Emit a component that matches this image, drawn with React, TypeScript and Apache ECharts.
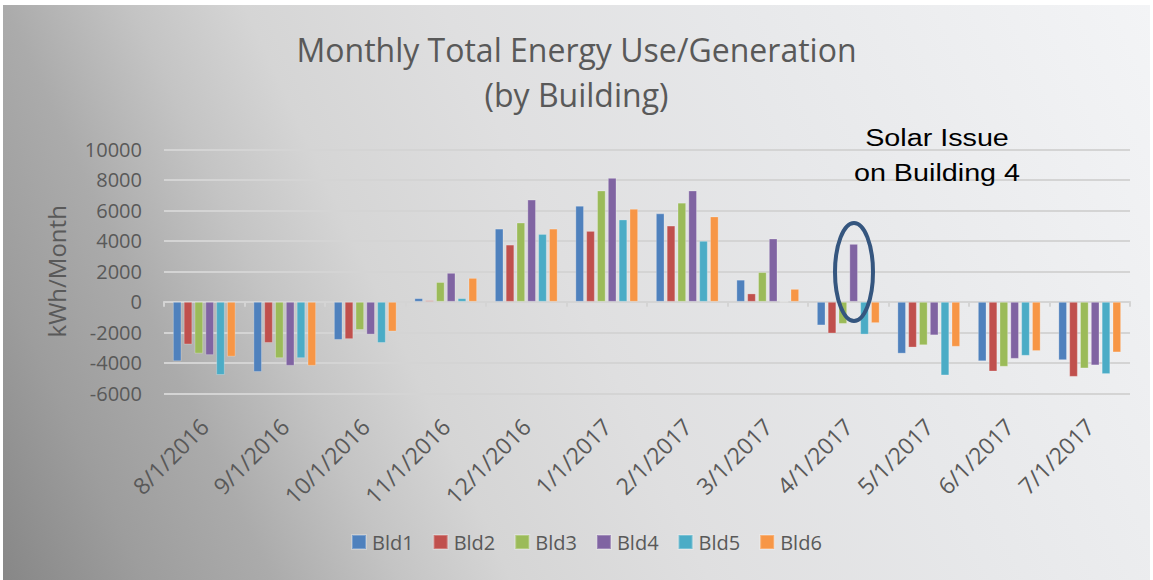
import React, { useEffect, useRef } from "react";
import * as echarts from "echarts";

const categories = [
  "8/1/2016", "9/1/2016", "10/1/2016", "11/1/2016", "12/1/2016", "1/1/2017",
  "2/1/2017", "3/1/2017", "4/1/2017", "5/1/2017", "6/1/2017", "7/1/2017",
];
const bld1 = [-3900, -4600, -2500, 240, 4800, 6300, 5800, 1450, -1550, -3400, -3900, -3830];
const bld2 = [-2800, -2700, -2450, 100, 3750, 4650, 5000, 550, -2080, -3000, -4570, -4920];
const bld3 = [-3400, -3700, -1850, 1300, 5200, 7300, 6500, 1950, -1450, -2850, -4260, -4370];
const bld4 = [-3500, -4200, -2150, 1900, 6700, 8130, 7300, 4150, 3800, -2200, -3740, -4170];
const bld5 = [-4800, -3700, -2700, 240, 4450, 5400, 4000, 0, -2150, -4830, -3540, -4740];
const bld6 = [-3600, -4200, -1950, 1570, 4800, 6100, 5600, 850, -1400, -2950, -3230, -3320];

const seriesNames = ["Bld1", "Bld2", "Bld3", "Bld4", "Bld5", "Bld6"];
const seriesData = [bld1, bld2, bld3, bld4, bld5, bld6];
const colors = ["#4F81BD", "#C0504D", "#9BBB59", "#8064A2", "#4BACC6", "#F79646"];

const yMin = -6000;
const yMax = 10000;
const yInterval = 2000;

export default function App() {
  const ref = useRef<HTMLDivElement>(null);
  useEffect(() => {
    if (!ref.current) return;
    const chart = echarts.init(ref.current, undefined, { renderer: "svg" });
    const textColor = "#595959";
    const font = "'Open Sans', 'Noto Sans', sans-serif";
    chart.setOption({
      animation: false,
      color: colors,
      title: {
        text: "Monthly Total Energy Use/Generation\n(by Building)",
        left: "center",
        top: 17,
        textStyle: {
          fontFamily: font,
          fontWeight: "normal",
          fontSize: 32,
          lineHeight: 45,
          color: textColor,
        },
      },
      legend: {
        data: seriesNames,
        left: 343,
        top: 522,
        itemWidth: 14,
        itemHeight: 14,
        itemGap: 19,
        icon: "rect",
        textStyle: { fontFamily: font, fontSize: 20, color: textColor, padding: [0, 0, 0, 1] },
      },
      grid: { left: 161, top: 144.3, width: 966, height: 244, containLabel: false },
      xAxis: [
        {
          type: "category",
          data: categories,
          position: "bottom",
          axisLine: { show: false, onZero: false },
          axisTick: { show: false },
          axisLabel: {
            rotate: 45,
            margin: 29,
            fontFamily: font,
            fontSize: 23,
            color: textColor,
            interval: 0,
          },
        },
        {
          type: "category",
          data: categories,
          position: "bottom",
          axisLine: { show: true, onZero: true, lineStyle: { color: "#d4d4d4", width: 2 } },
          axisTick: { show: true, length: 5, lineStyle: { color: "#d4d4d4", width: 2 } },
          axisLabel: { show: false },
        },
      ],
      yAxis: {
        type: "value",
        min: yMin,
        max: yMax,
        interval: yInterval,
        name: "kWh/Month",
        nameLocation: "middle",
        nameRotate: 90,
        nameGap: 96,
        nameTextStyle: { fontFamily: font, fontSize: 24, color: textColor },
        axisLine: { show: false },
        axisTick: { show: false },
        axisLabel: {
          fontFamily: font,
          fontSize: 20,
          color: textColor,
          margin: 22,
          formatter: (v: number) => String(v),
        },
        splitLine: { lineStyle: { color: "#d4d4d4", width: 2 } },
      },
      series: seriesNames.map((name, i) => ({
        name,
        type: "bar",
        xAxisIndex: 0,
        data: seriesData[i],
        barGap: "25%",
        barCategoryGap: "22%",
        itemStyle: { borderColor: "rgba(255,255,255,0.25)", borderWidth: 1 },
      })),
      graphic: [
        {
          type: "text",
          x: 934,
          y: 133,
          scaleX: 1.25,
          style: {
            text: "Solar Issue",
            font: "23px 'Liberation Sans', Arial, sans-serif",
            fill: "#000",
            align: "center",
            verticalAlign: "middle",
          },
          z: 100,
        },
        {
          type: "text",
          x: 934,
          y: 168,
          scaleX: 1.25,
          style: {
            text: "on Building 4",
            font: "23px 'Liberation Sans', Arial, sans-serif",
            fill: "#000",
            align: "center",
            verticalAlign: "middle",
          },
          z: 100,
        },
        {
          type: "ellipse",
          shape: { cx: 851, cy: 267, rx: 19, ry: 49 },
          style: { fill: "none", stroke: "#35567F", lineWidth: 4 },
          z: 100,
        },
      ],
    });
    return () => chart.dispose();
  }, []);

  return (
    <div style={{ position: "fixed", left: 0, top: 0, width: 1153, height: 580, background: "#ffffff" }}>
      <div
        style={{
          position: "absolute",
          left: 3,
          top: 5,
          width: 1147,
          height: 575,
          background:
            "linear-gradient(65deg, #878787 0%, #9d9d9d 10%, #ababab 19%, #c4c4c4 28%, #d5d5d5 36%, #dfdfe0 50%, #e7e8ea 70%, #f3f4f6 100%)",
        }}
      >
        <div ref={ref} style={{ width: 1147, height: 575 }} />
      </div>
    </div>
  );
}
